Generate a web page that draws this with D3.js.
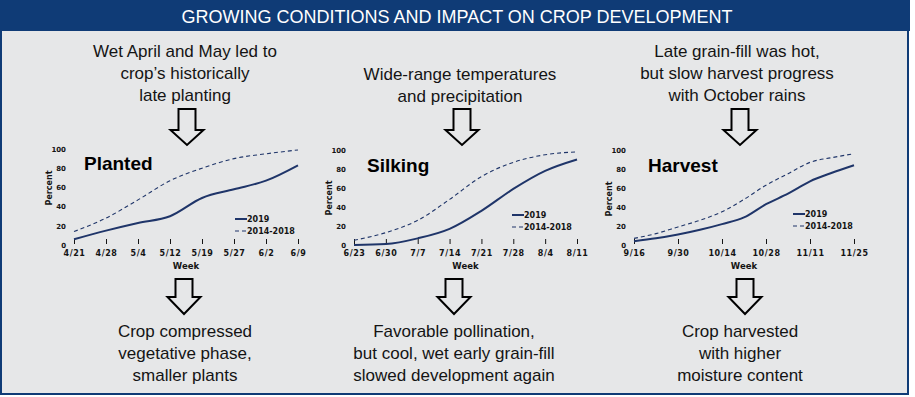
<!DOCTYPE html>
<html>
<head>
<meta charset="utf-8">
<script src="https://cdn.jsdelivr.net/npm/d3@7"></script>
<style>
  body { margin: 0; background: #fff; }
</style>
</head>
<body>
<main></main>
<script>
// Planted
const plantedWeeks = ['4/21', '4/28', '5/4', '5/12', '5/19', '5/27', '6/2', '6/9']
const planted2019 = [6, 15, 23, 30, 49, 58, 67, 83]
const plantedAvg = [14, 28, 47, 67, 80, 90, 95, 99]

// Silking
const silkingWeeks = ['6/23', '6/30', '7/7', '7/14', '7/21', '7/28', '8/4', '8/11']
const silking2019 = [0, 1, 7, 17, 36, 59, 78, 90]
const silkingAvg = [5, 13, 26, 48, 72, 87, 95, 98]

// Harvest
const harvestWeeks = ['9/16', '9/23', '9/30', '10/7', '10/14', '10/21', '10/28', '11/4', '11/11', '11/18', '11/25']
const harvestTicks = ['9/16', '9/30', '10/14', '10/28', '11/11', '11/25']
const harvest2019 = [4, 7, 11, 16, 22, 29, 43, 54, 67, 76, 84]
const harvestAvg = [7, 12, 19, 26, 35, 48, 63, 75, 87, 92, 96]

const percentTicks = [0, 20, 40, 60, 80, 100]
const seriesNames = ['2019', '2014-2018']

const headerText = 'GROWING CONDITIONS AND IMPACT ON CROP DEVELOPMENT'
const topNotes = [
    ['Wet April and May led to', 'crop\u2019s historically', 'late planting'],
    ['Wide-range temperatures', 'and precipitation'],
    ['Late grain-fill was hot,', 'but slow harvest progress', 'with October rains']
]
const bottomNotes = [
    ['Crop compressed', 'vegetative phase,', 'smaller plants'],
    ['Favorable pollination,', 'but cool, wet early grain-fill', 'slowed development again'],
    ['Crop harvested', 'with higher', 'moisture content']
]

function GeneratePlot() {
    // Configuration
    const width = 915
    const height = 397
    const navy = '#0f3b76'
    const lineColor = '#1f3569'
    const bg = '#e6e7e8'
    const ink = '#141414'
    const bodyFont = '"Liberation Sans", Arial, sans-serif'
    const smallFont = '"DejaVu Sans", Verdana, sans-serif'
    const lineHeight = 22

    const panels = [
        {title: 'Planted', weeks: plantedWeeks, ticks: plantedWeeks, s2019: planted2019, avg: plantedAvg,
            x: [74, 298], y: [245, 149], titleX: 84, titleY: 170, legendX: 235, legendY: 219, percentY: 188},
        {title: 'Silking', weeks: silkingWeeks, ticks: silkingWeeks, s2019: silking2019, avg: silkingAvg,
            x: [354, 577], y: [245, 150], titleX: 367, titleY: 172, legendX: 512, legendY: 215, percentY: 198},
        {title: 'Harvest', weeks: harvestWeeks, ticks: harvestTicks, s2019: harvest2019, avg: harvestAvg,
            x: [634, 854], y: [245, 150], titleX: 648, titleY: 172, legendX: 793, legendY: 214, percentY: 199}
    ]
    const topText = [{cx: 185, y: 57}, {cx: 460, y: 80}, {cx: 737, y: 57}]
    const bottomText = [{cx: 185, y: 337}, {cx: 454, y: 337}, {cx: 740, y: 337}]
    const topArrows = [{cx: 187, top: 109, head: 130, tip: 145}, {cx: 462, top: 109, head: 130, tip: 145}, {cx: 740, top: 109, head: 130, tip: 145}]
    const bottomArrows = [{cx: 184, top: 279, head: 297, tip: 314}, {cx: 454, top: 279, head: 297, tip: 314}, {cx: 745, top: 279, head: 297, tip: 314}]

    const svg = d3.select('main')
        .append('svg')
        .attr('width', width)
        .attr('height', height)

    // Frame
    svg.append('rect')
        .attr('x', 1).attr('y', 30)
        .attr('width', 907).attr('height', 364)
        .attr('fill', bg)
        .attr('stroke', navy)
        .attr('stroke-width', 2)
    svg.append('rect')
        .attr('x', 0).attr('y', 0)
        .attr('width', 910).attr('height', 31)
        .attr('fill', navy)
    svg.append('text')
        .text(headerText)
        .attr('x', 457).attr('y', 23)
        .attr('text-anchor', 'middle')
        .attr('fill', '#fff')
        .style('font', `18px ${bodyFont}`)

    // Notes
    const notes = (lines, pos) => {
        const t = svg.append('text')
            .attr('text-anchor', 'middle')
            .attr('fill', ink)
            .style('font', `17px ${bodyFont}`)
        lines.forEach((line, i) => {
            t.append('tspan')
                .attr('x', pos.cx)
                .attr('y', pos.y + i * lineHeight)
                .text(line)
        })
    }
    topNotes.forEach((lines, i) => notes(lines, topText[i]))
    bottomNotes.forEach((lines, i) => notes(lines, bottomText[i]))

    // Arrows
    const arrow = a => {
        const sh = 8.5, hh = 16.5
        const p = d3.path()
        p.moveTo(a.cx - sh, a.top)
        p.lineTo(a.cx + sh, a.top)
        p.lineTo(a.cx + sh, a.head)
        p.lineTo(a.cx + hh, a.head)
        p.lineTo(a.cx, a.tip)
        p.lineTo(a.cx - hh, a.head)
        p.lineTo(a.cx - sh, a.head)
        p.closePath()
        svg.append('path')
            .attr('d', p.toString())
            .attr('fill', bg)
            .attr('stroke', '#000')
            .attr('stroke-width', 2)
            .attr('stroke-linejoin', 'miter')
    }
    topArrows.forEach(arrow)
    bottomArrows.forEach(arrow)

    // Charts
    const chart = panel => {
        const g = svg.append('g')
        const x = d3.scalePoint()
            .domain(panel.weeks)
            .range(panel.x)
        const y = d3.scaleLinear()
            .domain([0, 100])
            .range(panel.y)

        const xAxis = g.append('g')
            .attr('transform', `translate(0,${panel.y[0] - 1})`)
            .call(d3.axisBottom(x).tickValues(panel.ticks).tickSize(-5).tickPadding(6))
        xAxis.select('.domain').remove()
        xAxis.selectAll('line').attr('stroke', ink)
        xAxis.selectAll('text')
            .attr('fill', ink)
            .style('font', `bold 8px ${smallFont}`)
            .style('letter-spacing', '0.6px')

        const yAxis = g.append('g')
            .attr('transform', `translate(${panel.x[0] - 8},0)`)
            .call(d3.axisLeft(y).tickValues(percentTicks).tickSize(0).tickPadding(0))
        yAxis.select('.domain').remove()
        yAxis.selectAll('text')
            .attr('fill', ink)
            .style('font', `bold 7px ${smallFont}`)

        g.append('text')
            .text('Week')
            .attr('x', (panel.x[0] + panel.x[1]) / 2)
            .attr('y', panel.y[0] + 24)
            .attr('text-anchor', 'middle')
            .attr('fill', ink)
            .style('font', `bold 8.5px ${smallFont}`)

        g.append('text')
            .text('Percent')
            .attr('transform', `translate(${panel.x[0] - 22},${panel.percentY}) rotate(-90)`)
            .attr('text-anchor', 'middle')
            .attr('fill', ink)
            .style('font', `bold 8px ${smallFont}`)

        g.append('text')
            .text(panel.title)
            .attr('x', panel.titleX)
            .attr('y', panel.titleY)
            .attr('fill', '#000')
            .style('font', `bold 19px ${bodyFont}`)

        const line = d3.line()
            .x((d, i) => x(panel.weeks[i]))
            .y(d => y(d))
            .curve(d3.curveMonotoneX)

        g.append('path')
            .datum(panel.avg)
            .attr('d', line)
            .attr('fill', 'none')
            .attr('stroke', lineColor)
            .attr('stroke-width', 1.1)
            .attr('stroke-dasharray', '4,3')
        g.append('path')
            .datum(panel.s2019)
            .attr('d', line)
            .attr('fill', 'none')
            .attr('stroke', lineColor)
            .attr('stroke-width', 2)

        // Legend
        const legend = g.append('g')
            .attr('transform', `translate(${panel.legendX},${panel.legendY})`)
        seriesNames.forEach((name, i) => {
            legend.append('line')
                .attr('x1', 0).attr('x2', 12)
                .attr('y1', i * 12).attr('y2', i * 12)
                .attr('stroke', lineColor)
                .attr('stroke-width', i === 0 ? 2 : 1.1)
                .attr('stroke-dasharray', i === 0 ? null : '4,3')
            legend.append('text')
                .text(name)
                .attr('x', 12)
                .attr('y', i * 12 + 3)
                .attr('fill', ink)
                .style('font', `bold 8px ${smallFont}`)
        })
    }
    panels.forEach(chart)
}

GeneratePlot()
</script>
</body>
</html>
